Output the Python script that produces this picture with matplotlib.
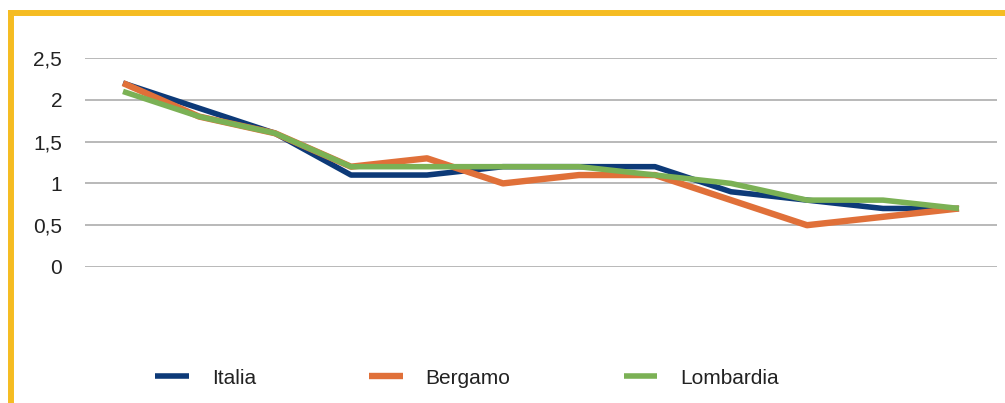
import matplotlib.pyplot as plt
from matplotlib.lines import Line2D

plt.rcParams["font.family"] = ["Liberation Sans", "DejaVu Sans"]

periods = list(range(12))
italia = [2.2, 1.9, 1.6, 1.1, 1.1, 1.2, 1.2, 1.2, 0.9, 0.8, 0.7, 0.7]
bergamo = [2.2, 1.8, 1.6, 1.2, 1.3, 1.0, 1.1, 1.1, 0.8, 0.5, 0.6, 0.7]
lombardia = [2.1, 1.8, 1.6, 1.2, 1.2, 1.2, 1.2, 1.1, 1.0, 0.8, 0.8, 0.7]
yticks = [0, 0.5, 1, 1.5, 2, 2.5]
ytick_labels = ["0", "0,5", "1", "1,5", "2", "2,5"]

W, H = 1005, 403
fig = plt.figure(figsize=(W / 100, H / 100), dpi=100)
ax = fig.add_axes([85 / W, 1 - 267 / H, 912 / W, (267 - 58) / H])

ax.plot(periods, italia, color="#0D3A78", lw=4.0, label="Italia", solid_capstyle="butt")
ax.plot(periods, bergamo, color="#E07039", lw=4.6, label="Bergamo", solid_capstyle="butt")
ax.plot(periods, lombardia, color="#7BB155", lw=4.0, label="Lombardia", solid_capstyle="butt")

ax.set_xlim(-0.5, 11.5)
ax.set_ylim(0, 2.5)
ax.set_yticks(yticks)
ax.set_yticklabels(ytick_labels, fontsize=15, color="#222222")
ax.set_xticks([])
ax.tick_params(axis="y", length=0, pad=16.5)
ax.grid(axis="y", color="#A6A6A6", lw=1.1)
ax.set_axisbelow(True)
for s in ax.spines.values():
    s.set_visible(False)
for lab in ax.get_lines():
    lab.set_clip_on(False)

fig.legend(
    loc="center left",
    bbox_to_anchor=(145 / W, 1 - 378 / H),
    ncol=3,
    frameon=False,
    fontsize=15,
    borderpad=0,
    handlelength=1.6,
    handletextpad=1.1,
    columnspacing=5.45,
    labelcolor="#222222",
)

# yellow frame on top and left
gold = "#F5BC22"
fig.add_artist(Line2D([7.5 / W, 1.0], [1 - 12.5 / H, 1 - 12.5 / H], color=gold, lw=4.3,
                      solid_capstyle="butt", transform=fig.transFigure))
fig.add_artist(Line2D([10.5 / W, 10.5 / W], [1 - 10 / H, 0], color=gold, lw=4.3,
                      solid_capstyle="butt", transform=fig.transFigure))

fig.savefig("out.png", dpi=100)
